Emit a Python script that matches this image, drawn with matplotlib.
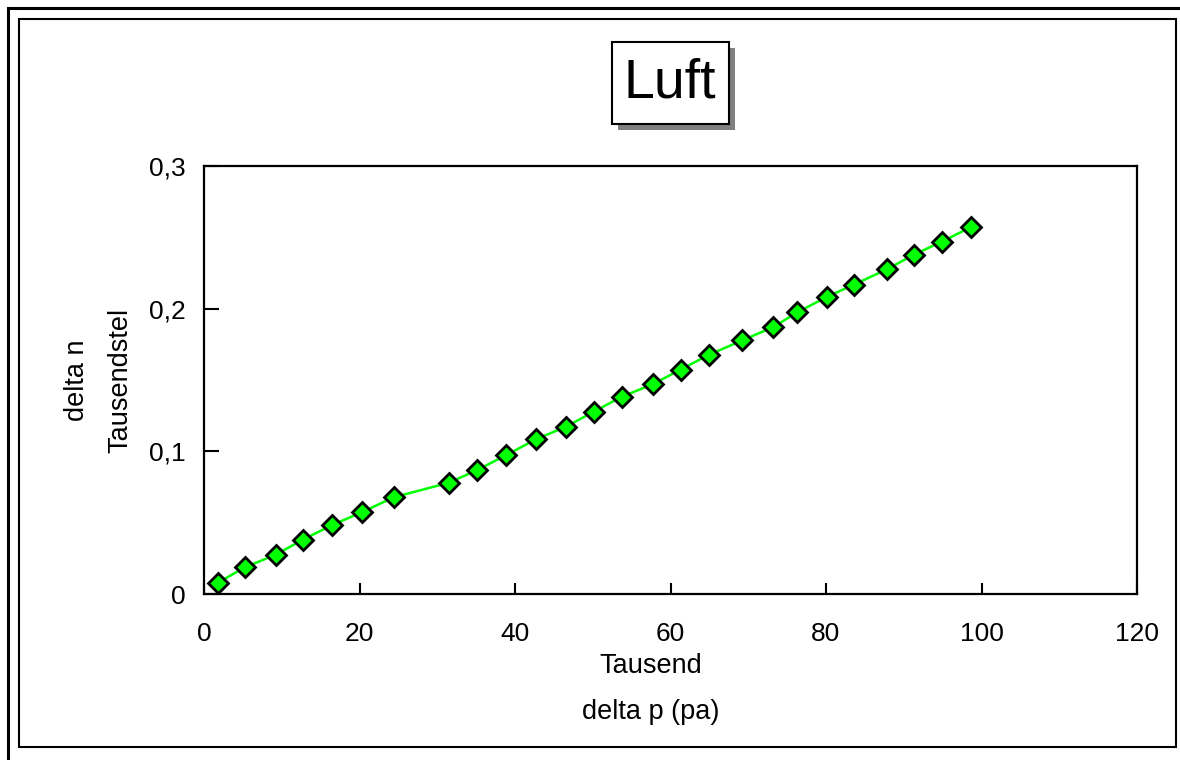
import matplotlib
matplotlib.use('Agg')
import matplotlib.pyplot as plt
from   matplotlib.patches import Rectangle
from   matplotlib.ticker  import FuncFormatter

plt.rcParams['font.family'] = ['Liberation Sans', 'DejaVu Sans']

# delta p (Tausend pa)
delta_p = [1.8, 5.3, 9.2, 12.7, 16.5, 20.3, 24.4, 31.5, 35.1, 38.9, 42.7, 46.5, 50.1,
           53.7, 57.7, 61.3, 65.0, 69.2, 73.2, 76.3, 80.1, 83.6, 87.8, 91.3, 94.9, 98.7]
# delta n (Tausendstel)
delta_n = [0.0080, 0.0188, 0.0275, 0.0380, 0.0484, 0.0573, 0.0678, 0.0780, 0.0868,
           0.0974, 0.1085, 0.1171, 0.1277, 0.1382, 0.1470, 0.1573, 0.1678, 0.1777,
           0.1871, 0.1974, 0.2082, 0.2169, 0.2275, 0.2378, 0.2470, 0.2573]

x_ticks = [0, 20, 40, 60, 80, 100, 120]
y_ticks = [0, 0.1, 0.2, 0.3]

W, H = 1180, 760
fig = plt.figure(figsize=(W / 100, H / 100), dpi=100)

def px_rect(x0, y0, x1, y1, **kw):
    # rectangle in pixel coords (origin top-left)
    return Rectangle((x0 / W, 1 - y1 / H), (x1 - x0) / W, (y1 - y0) / H,
                     transform=fig.transFigure, fill=False, **kw)

# outer + inner frames
fig.patches.append(px_rect(8, 8, 1200, 800, lw=2.2, edgecolor='black'))
fig.patches.append(px_rect(19, 19, 1176, 747, lw=1.5, edgecolor='black'))

ax = fig.add_axes([204 / W, 1 - 594 / H, (1137 - 204) / W, (594 - 166) / H])

ax.plot(delta_p, delta_n, color='#00ff00', lw=1.8, marker='D', ms=10,
        mfc='#00ff00', mec='black', mew=2.0, zorder=3)

ax.set_xlim(0, 120)
ax.set_ylim(0, 0.3)
ax.set_xticks(x_ticks)
ax.set_yticks(y_ticks)

comma = FuncFormatter(lambda v, pos: ('%g' % round(v, 3)).replace('.', ','))
ax.xaxis.set_major_formatter(comma)
ax.yaxis.set_major_formatter(comma)

ax.tick_params(axis='x', direction='in', length=8, width=1.5, labelsize=19, pad=20)
ax.tick_params(axis='y', direction='in', length=11, width=1.5, labelsize=19, pad=13)
for s in ax.spines.values():
    s.set_linewidth(1.6)

# axis labels (two-line style)
fig.text(651 / W, 1 - 666 / H, 'Tausend', ha='center', va='center', fontsize=19.5)
fig.text(651 / W, 1 - 712 / H, 'delta p (pa)', ha='center', va='center', fontsize=19.5)
fig.text(77 / W, 1 - 380 / H, 'delta n', ha='center', va='center', fontsize=19.5, rotation=90)
fig.text(120 / W, 1 - 380 / H, 'Tausendstel', ha='center', va='center', fontsize=19.5, rotation=90)

# title box with shadow
fig.patches.append(Rectangle((618 / W, 1 - 130 / H), (735 - 618) / W, (130 - 48) / H,
                             transform=fig.transFigure, facecolor='#808080', edgecolor='none'))
fig.patches.append(Rectangle((612 / W, 1 - 124 / H), (729 - 612) / W, (124 - 42) / H,
                             transform=fig.transFigure, facecolor='white', edgecolor='black', lw=1.5))
fig.text(670 / W, 1 - 84 / H, 'Luft', ha='center', va='center', fontsize=40)

fig.savefig('out.png', dpi=100)
